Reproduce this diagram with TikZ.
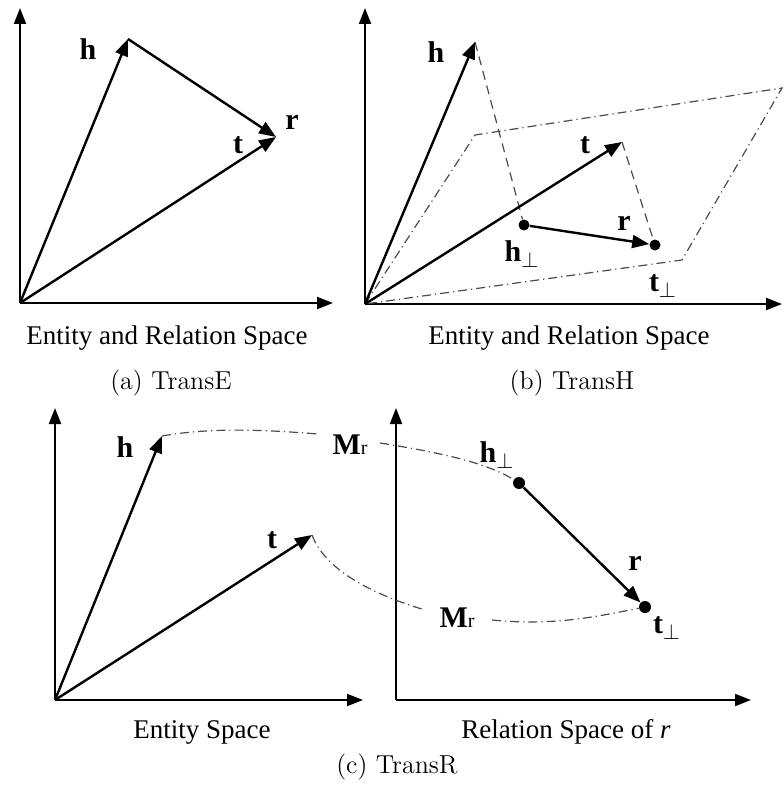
\documentclass[tikz,border=0pt]{standalone}
\usepackage{fontspec}
\newfontfamily\timesfont{Liberation Serif}
\usetikzlibrary{arrows.meta}

\begin{document}
\begin{tikzpicture}[x=0.5pt,y=-0.5pt,
        axis/.style={line width=1pt,-{Triangle[length=8pt,width=6pt]}},
        vec/.style={line width=1.2pt,-{Triangle[length=8.5pt,width=6.5pt]}},
        proj/.style={black!70,line width=0.6pt,dash pattern=on 4.5pt off 3pt},
        plane/.style={black!70,line width=0.6pt,dash pattern=on 4.5pt off 2pt on 0.6pt off 2pt},
        dotpt/.style={circle,fill=black,inner sep=0pt,minimum size=5.5pt},
        lbl/.style={font=\timesfont\bfseries\fontsize{15}{16}\selectfont,inner sep=1pt},
        spacecap/.style={font=\timesfont\fontsize{13.5}{14}\selectfont},
        subcap/.style={font=\fontsize{13}{14}\selectfont}]
        \useasboundingbox (0,0) rectangle (783,791);
        % axes of the four spaces
        \coordinate (oa) at (20,303);  \coordinate (xa) at (333,303); \coordinate (ya) at (20,8);
        \coordinate (ob) at (365,304); \coordinate (xb) at (782,304); \coordinate (yb) at (365,8);
        \coordinate (oc) at (55,700);  \coordinate (xc) at (363,700); \coordinate (yc) at (55,408);
        \coordinate (od) at (396,700); \coordinate (xd) at (751,700); \coordinate (yd) at (396,408);
        \foreach \o/\x/\y in {oa/xa/ya,ob/xb/yb,oc/xc/yc,od/xd/yd}{
          \draw[axis] (\o) -- (\x);
          \draw[axis] (\o) -- (\y);
        }
        % (a) TransE
        \coordinate (ha) at (128,39);
        \coordinate (ta) at (276,137);
        \draw[vec] (oa) -- (ha);
        \draw[vec] (ha) -- (ta);
        \draw[vec] (oa) -- (ta);
        \node[lbl] (lha) at (88,49) {h};
        \node[lbl] (lra) at (292,122) {r};
        \node[lbl] (lta) at (238,145) {t};
        \node[spacecap] (capa) at (167,338) {Entity and Relation Space};
        \node[subcap] (suba) at (171,383) {(a) TransE};
        % (b) TransH
        \coordinate (pa) at (475,135);
        \coordinate (pb) at (782,88);
        \coordinate (pc) at (682,260);
        \draw[plane] (ob) -- (pa) -- (pb) -- (pc) -- cycle;
        \coordinate (hb) at (475,42);
        \coordinate (tb) at (622,142);
        \node[dotpt] (hpb) at (524,225) {};
        \node[dotpt] (tpb) at (655,245) {};
        \draw[proj] (hb) -- (hpb);
        \draw[proj] (tb) -- (tpb);
        \draw[vec] (ob) -- (hb);
        \draw[vec] (ob) -- (tb);
        \draw[vec] (hpb) -- (tpb);
        \node[lbl] (lhb) at (436,52) {h};
        \node[lbl] (ltb) at (585,145) {t};
        \node[lbl] (lrb) at (624,223) {r};
        \node[lbl] (lhpb) at (522,254) {h$_\perp$};
        \node[lbl] (ltpb) at (663,286) {t$_\perp$};
        \node[spacecap] (capb) at (569,338) {Entity and Relation Space};
        \node[subcap] (subb) at (572,383) {(b) TransH};
        % (c) TransR
        \coordinate (hc) at (162,436);
        \coordinate (tc) at (312,535);
        \node[dotpt,minimum size=6pt] (hpc) at (519,483) {};
        \node[dotpt,minimum size=6pt] (tpc) at (645,607) {};
        \draw[vec] (oc) -- (hc);
        \draw[vec] (oc) -- (tc);
        \draw[vec] (hpc) -- (tpc);
        \node[lbl] (mru) at (350,445) {M{\mdseries\fontsize{10}{10}\selectfont r}};
        \node[lbl] (mrl) at (457,618) {M{\mdseries\fontsize{10}{10}\selectfont r}};
        \coordinate (mru1) at (318,434);
        \coordinate (mru2) at (380,443);
        \coordinate (mrl1) at (425,610);
        \coordinate (mrl2) at (492,620);
        \draw[plane] (hc) .. controls +(50,-9) and +(-50,-4) .. (mru1);
        \draw[plane] (mru2) .. controls +(50,8) and +(-35,-22) .. (hpc);
        \draw[plane] (tc) .. controls +(15,40) and +(-40,-12) .. (mrl1);
        \draw[plane] (mrl2) .. controls +(60,6) and +(-50,10) .. (tpc);
        \node[lbl] (lhc) at (125,447) {h};
        \node[lbl] (ltc) at (272,540) {t};
        \node[lbl] (lhpc) at (497,455) {h$_\perp$};
        \node[lbl] (lrc) at (635,563) {r};
        \node[lbl] (ltpc) at (667,628) {t$_\perp$};
        \node[spacecap] (capc) at (202,732) {Entity Space};
        \node[spacecap] (capd) at (566,732) {Relation Space of \textit{r}};
        \node[subcap] (subc) at (397,767) {(c) TransR};
\end{tikzpicture}
\end{document}
